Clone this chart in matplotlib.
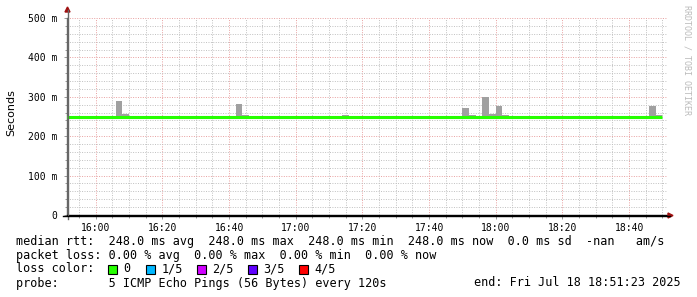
import matplotlib
matplotlib.use("Agg")
import matplotlib.pyplot as plt
from matplotlib.ticker import FixedLocator, MultipleLocator

# ---- data ----
start_time = "15:51:23"
end_time = "18:51:23"
median_times = ["15:51:23", "18:50:00"]
median_ms = [248.0, 248.0]
smoke_start = ["16:06", "16:08", "16:42", "16:44", "17:14", "17:50", "17:52",
               "17:56", "17:58", "18:00", "18:02", "18:46", "18:48"]
smoke_top_ms = [289, 257, 282, 254, 254, 272, 254, 300, 256, 277, 254, 277, 254]
step_min = 2
x_ticks = ["16:00", "16:20", "16:40", "17:00", "17:20", "17:40", "18:00", "18:20", "18:40"]
y_ticks_ms = [0, 100, 200, 300, 400, 500]
y_tick_labels = ["0", "100 m", "200 m", "300 m", "400 m", "500 m"]
legend_lines = [
    "median rtt:  248.0 ms avg  248.0 ms max  248.0 ms min  248.0 ms now  0.0 ms sd  -nan   am/s",
    "packet loss: 0.00 % avg  0.00 % max  0.00 % min  0.00 % now",
]
loss_labels = ["0", "1/5", "2/5", "3/5", "4/5"]
loss_colors = ["#26ff00", "#00b8ff", "#d000ff", "#6000ff", "#ff0000"]
probe_text = "probe:       5 ICMP Echo Pings (56 Bytes) every 120s"
end_text = "end: Fri Jul 18 18:51:23 2025"


def tmin(s):
    p = [float(v) for v in s.split(":")]
    while len(p) < 3:
        p.append(0.0)
    return p[0] * 60 + p[1] + p[2] / 60


W, H = 697, 297
fig = plt.figure(figsize=(W / 100, H / 100), dpi=100)
fig.patch.set_facecolor("white")
ax = fig.add_axes([67 / W, (H - 215) / H, 600 / W, 197 / H])
ax.set_facecolor("white")

x0, x1 = tmin(start_time), tmin(end_time)
ax.set_xlim(x0, x1)
ax.set_ylim(0, 500)

mono = "DejaVu Sans Mono"

# grid
ax.xaxis.set_major_locator(FixedLocator([tmin(t) for t in x_ticks]))
ax.xaxis.set_minor_locator(MultipleLocator(5))
ax.yaxis.set_major_locator(FixedLocator(y_ticks_ms))
ax.yaxis.set_minor_locator(MultipleLocator(20))
ax.grid(which="minor", color="#c0c0c0", linestyle=(0, (1, 1.5)), linewidth=0.7)
ax.grid(which="major", color="#e8a0a0", linestyle=(0, (1, 1.5)), linewidth=0.7)
ax.set_axisbelow(True)

# smoke bars
xs = [tmin(t) for t in smoke_start]
ax.bar(xs, [v - median_ms[0] for v in smoke_top_ms], bottom=median_ms[0],
       width=step_min, align="edge", color="#a0a0a0", linewidth=0, zorder=2)
# median line
ax.plot([tmin(t) for t in median_times], median_ms, color="#26ff00",
        linewidth=2.2, solid_capstyle="butt", zorder=3)

# ticks and labels
ax.set_xticklabels(x_ticks, fontfamily=mono, fontsize=7)
ax.set_yticklabels(y_tick_labels, fontfamily=mono, fontsize=7)
ax.tick_params(axis="both", which="both", direction="out", color="#888888", width=0.6)
ax.tick_params(axis="x", which="major", length=3, pad=3)
ax.tick_params(axis="x", which="minor", length=2)
ax.tick_params(axis="y", which="major", length=2, pad=5)
ax.tick_params(axis="y", which="minor", length=1.5)

for s in ["top", "right"]:
    ax.spines[s].set_visible(False)
ax.spines["left"].set_color("#666666")
ax.spines["left"].set_linewidth(1)
ax.spines["bottom"].set_color("black")
ax.spines["bottom"].set_linewidth(1)

# axis extensions and arrows (figure pixel coords)
def fx(px):
    return px / W

def fy(py):
    return 1 - py / H

fig.add_artist(plt.Line2D([fx(67.5), fx(67.5)], [fy(10), fy(219)], color="#666666", linewidth=1))
fig.add_artist(plt.Line2D([fx(63), fx(670)], [fy(215.5), fy(215.5)], color="black", linewidth=1))
fig.add_artist(plt.Polygon([[fx(65), fy(12)], [fx(70), fy(12)], [fx(67.5), fy(7)]],
                           closed=True, color="#a01010", transform=fig.transFigure))
fig.add_artist(plt.Polygon([[fx(668), fy(213)], [fx(668), fy(218)], [fx(673), fy(215.5)]],
                           closed=True, color="#a01010", transform=fig.transFigure))

# y axis label
fig.text(fx(11), fy(113), "Seconds", rotation=90, ha="center", va="center",
         fontsize=8, fontfamily="DejaVu Sans", color="#000000")

# watermark
fig.text(fx(687), fy(5), "RRDTOOL / TOBI OETIKER", rotation=270, ha="center", va="top",
         fontsize=6, fontfamily=mono, color="#bbbbbb")

# legend
lfs = 8.5
fig.text(fx(16), fy(241), legend_lines[0], ha="left", va="center", fontsize=lfs, fontfamily=mono)
fig.text(fx(16), fy(255), legend_lines[1], ha="left", va="center", fontsize=lfs, fontfamily=mono)
fig.text(fx(16), fy(269), "loss color:", ha="left", va="center", fontsize=lfs, fontfamily=mono)
box_x = [108, 146, 197, 248, 299]
for bx, lab, col in zip(box_x, loss_labels, loss_colors):
    fig.add_artist(plt.Rectangle((fx(bx), fy(273.5)), 8.5 / W, 8.5 / H, facecolor=col,
                                 edgecolor="black", linewidth=0.8, transform=fig.transFigure))
    fig.text(fx(bx + 15.5), fy(269), lab, ha="left", va="center", fontsize=lfs, fontfamily=mono)
fig.text(fx(16), fy(283), probe_text, ha="left", va="center", fontsize=lfs, fontfamily=mono)
fig.text(fx(681), fy(283), end_text, ha="right", va="center", fontsize=lfs, fontfamily=mono)

fig.savefig("out.png", dpi=100, facecolor="white")
